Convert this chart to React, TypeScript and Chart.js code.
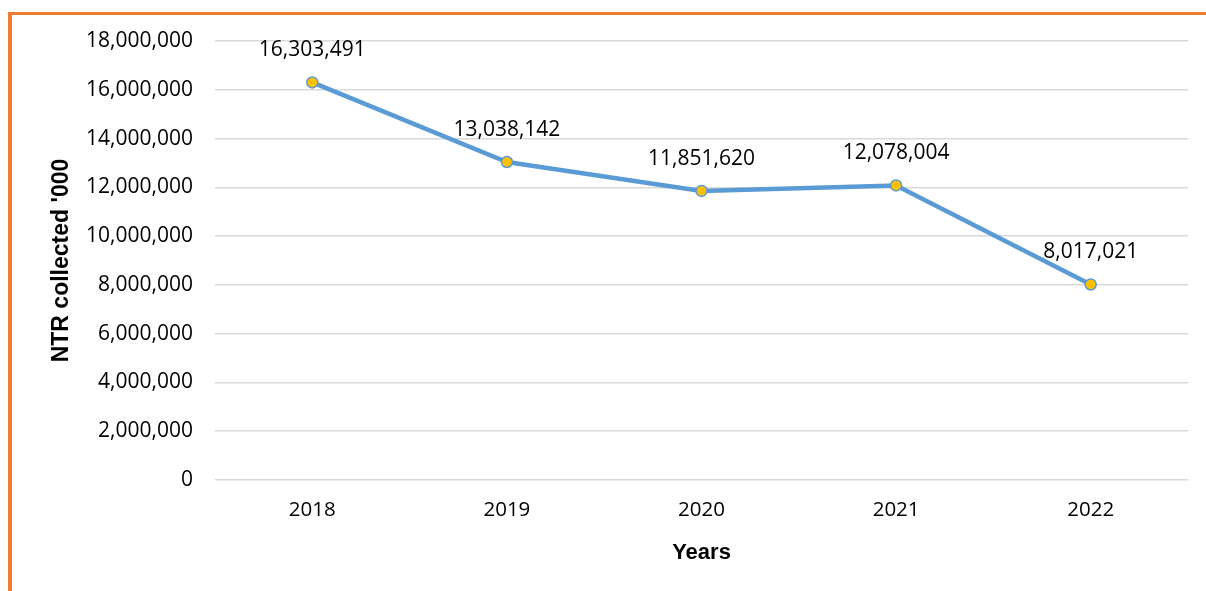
import React, { useEffect, useRef } from "react";
import { Chart, registerables } from "chart.js";

Chart.register(...registerables);

const years = ["2018", "2019", "2020", "2021", "2022"];
const ntrCollected = [16303491, 13038142, 11851620, 12078004, 8017021];
const yMin = 0;
const yMax = 18000000;
const yStep = 2000000;

const FONT = "'Open Sans', 'Noto Sans', sans-serif";
const TITLE_FONT = "'Liberation Sans', Arial, sans-serif";
const fmt = (v: number) => Math.round(v).toLocaleString("en-US");

const dataLabelPlugin = {
  id: "dataLabels",
  afterDatasetsDraw(chart: any) {
    const ctx = chart.ctx;
    const meta = chart.getDatasetMeta(0);
    const ds = chart.data.datasets[0];
    ctx.save();
    ctx.font = `21px ${FONT}`;
    ctx.fillStyle = "#000000";
    ctx.textAlign = "center";
    ctx.textBaseline = "middle";
    meta.data.forEach((pt: any, i: number) => {
      ctx.fillText(fmt(ds.data[i]), pt.x, pt.y - 32);
    });
    ctx.restore();
  },
};

export default function App() {
  const ref = useRef<HTMLCanvasElement>(null);
  useEffect(() => {
    if (!ref.current) return;
    const chart = new Chart(ref.current, {
      type: "line",
      data: {
        labels: years,
        datasets: [
          {
            data: ntrCollected,
            borderColor: "#5B9BD5",
            borderWidth: 4.5,
            pointBackgroundColor: "#FFC000",
            pointBorderColor: "#5B9BD5",
            pointBorderWidth: 1.5,
            pointRadius: 5.5,
            tension: 0,
          },
        ],
      },
      options: {
        animation: false,
        responsive: false,
        layout: { padding: { left: 0, right: 18, top: 41, bottom: 0 } },
        plugins: { legend: { display: false }, tooltip: { enabled: false } },
        scales: {
          x: {
            offset: true,
            grid: { display: false, drawTicks: false },
            border: { display: false },
            ticks: { color: "#000", font: { family: FONT, size: 20.5 }, padding: 18 },
            title: {
              display: true,
              text: "Years",
              color: "#000",
              font: { family: TITLE_FONT, size: 22, weight: "bold" },
              padding: { top: 0, bottom: 25 },
            },
            afterFit: (s: any) => {
              s.height = 111;
            },
          },
          y: {
            min: yMin,
            max: yMax,
            grid: { color: "#D9D9D9", lineWidth: 1.5, drawTicks: false },
            border: { display: false },
            ticks: {
              stepSize: yStep,
              color: "#000",
              font: { family: FONT, size: 21 },
              padding: 22,
              callback: (v: any) => fmt(Number(v)),
            },
            title: {
              display: true,
              text: "NTR collected '000",
              color: "#000",
              font: { family: TITLE_FONT, size: 23, weight: "bold" },
              padding: { top: 48, bottom: 0 },
            },
            afterFit: (s: any) => {
              s.width = 215;
            },
          },
        },
      },
      plugins: [dataLabelPlugin],
    });
    return () => chart.destroy();
  }, []);

  return (
    <div style={{ position: "fixed", left: 0, top: 0, width: 1206, height: 591, background: "#fff", overflow: "hidden" }}>
      <canvas ref={ref} width={1206} height={591} style={{ position: "absolute", left: 0, top: 0 }} />
      <div
        style={{
          position: "absolute",
          left: 8,
          top: 12,
          width: 1206,
          height: 600,
          borderLeft: "4px solid #ED7D31",
          borderTop: "3px solid #ED7D31",
          pointerEvents: "none",
        }}
      />
    </div>
  );
}
